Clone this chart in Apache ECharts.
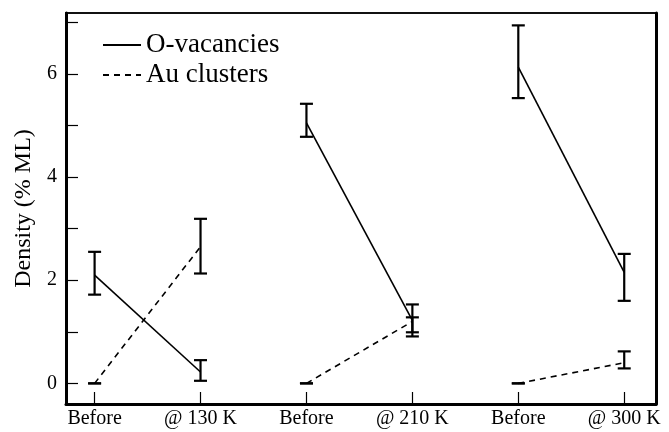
<!DOCTYPE html>
<html>
<head>
<meta charset="utf-8">
<script src="https://cdn.jsdelivr.net/npm/echarts@6/dist/echarts.min.js"></script>
<style>
  html, body { margin: 0; padding: 0; background: #fff; }
  #density-chart { width: 669px; height: 432px; }
</style>
</head>
<body>
<div id="density-chart"></div>
<script>
const categories = ['Before', '@ 130 K', 'Before', '@ 210 K', 'Before', '@ 300 K'];
const yTicks = [0, 1, 2, 3, 4, 5, 6, 7];
const yLabels = [0, 2, 4, 6];

const vacancies = [2.1, 0.22, 5.05, 1.22, 6.13, 2.15];
const vacanciesLow = [1.72, 0.05, 4.78, 0.91, 5.53, 1.6];
const vacanciesHigh = [2.55, 0.45, 5.42, 1.53, 6.94, 2.51];

const clusters = [0, 2.65, 0, 1.2, 0, 0.4];
const clustersLow = [0, 2.13, 0, 0.99, 0, 0.29];
const clustersHigh = [0, 3.19, 0, 1.28, 0, 0.62];

const font = 'Liberation Serif, Times New Roman, serif';

let myChart = echarts.init(document.getElementById('density-chart'));

// one line segment per before/after pair
function pairSeries(name, values, dashed) {
  let out = [];
  for (let i = 0; i < values.length; i += 2) {
    out.push({
      name: name,
      type: 'line',
      symbol: 'none',
      silent: true,
      color: '#000',
      lineStyle: { color: '#000', width: 1.6, type: dashed ? [6, 5] : 'solid' },
      data: [[i, values[i]], [i + 1, values[i + 1]]]
    });
  }
  return out;
}

function errorSeries(low, high) {
  return {
    type: 'custom',
    silent: true,
    renderItem: function (params, api) {
      const x = api.value(0);
      const lo = api.coord([x, api.value(1)]);
      const hi = api.coord([x, api.value(2)]);
      const half = 6.5;
      const style = { stroke: '#000', lineWidth: 2.2 };
      return {
        type: 'group',
        children: [
          { type: 'line', shape: { x1: lo[0], y1: lo[1], x2: hi[0], y2: hi[1] }, style: style },
          { type: 'line', shape: { x1: lo[0] - half, y1: lo[1], x2: lo[0] + half, y2: lo[1] }, style: style },
          { type: 'line', shape: { x1: hi[0] - half, y1: hi[1], x2: hi[0] + half, y2: hi[1] }, style: style }
        ]
      };
    },
    data: low.map((v, i) => [i, v, high[i]]),
    z: 3
  };
}

myChart.setOption({
  animation: false,
  grid: {
    left: 66, right: 13, top: 13, bottom: 28,
    show: true, borderColor: '#111', borderWidth: 2
  },
  legend: {
    orient: 'vertical',
    left: 97, top: 26,
    itemWidth: 38, itemHeight: 14, itemGap: 2,
    itemStyle: { opacity: 0 },
    textStyle: { fontFamily: font, fontSize: 27, lineHeight: 28, color: '#000' },
    data: ['O-vacancies', 'Au clusters']
  },
  xAxis: {
    type: 'value',
    min: -0.27, max: 5.3,
    splitLine: { show: false },
    axisLine: { onZero: false, lineStyle: { color: '#000', width: 3 } },
    axisTick: { inside: true, length: 12, customValues: [0, 1, 2, 3, 4, 5], lineStyle: { color: '#000', width: 1.2 } },
    axisLabel: {
      customValues: [0, 1, 2, 3, 4, 5],
      formatter: v => categories[Math.round(v)],
      fontFamily: font, fontSize: 20, color: '#000', margin: 5
    }
  },
  yAxis: [{
    type: 'value',
    min: -0.4, max: 7.18,
    name: 'Density (% ML)',
    nameLocation: 'middle',
    nameGap: 30,
    nameTextStyle: { fontFamily: font, fontSize: 24, color: '#000' },
    splitLine: { show: false },
    axisLine: { onZero: false, lineStyle: { color: '#000', width: 3 } },
    axisTick: { inside: true, length: 12, customValues: yTicks, lineStyle: { color: '#000', width: 1.2 } },
    axisLabel: {
      customValues: yLabels,
      fontFamily: font, fontSize: 20, color: '#000', margin: 9
    }
  }, {
    type: 'value',
    position: 'right',
    min: -0.4, max: 7.18,
    splitLine: { show: false },
    axisLine: { show: true, onZero: false, lineStyle: { color: '#000', width: 3 } },
    axisTick: { show: false },
    axisLabel: { show: false }
  }],
  series: [
    ...pairSeries('O-vacancies', vacancies, false),
    ...pairSeries('Au clusters', clusters, true),
    errorSeries(vacanciesLow, vacanciesHigh),
    errorSeries(clustersLow, clustersHigh)
  ]
});
</script>
</body>
</html>
